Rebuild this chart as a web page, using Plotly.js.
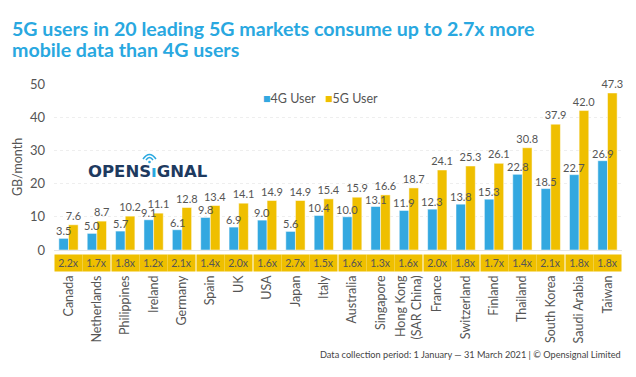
<!DOCTYPE html>
<html><head><meta charset="utf-8">
<script src="https://cdn.plot.ly/plotly-3.0.1.min.js"></script>
<style>html,body{margin:0;padding:0;background:#fff}#c{width:636px;height:377px}</style>
</head><body><div id="c"></div>
<script>
const countries = ["Canada","Netherlands","Philippines","Ireland","Germany","Spain","UK","USA","Japan","Italy","Australia","Singapore","Hong Kong<br>(SAR China)","France","Switzerland","Finland","Thailand","South Korea","Saudi Arabia","Taiwan"];
const users4G = [3.5,5.0,5.7,9.1,6.1,9.8,6.9,9.0,5.6,10.4,10.0,13.1,11.9,12.3,13.8,15.3,22.8,18.5,22.7,26.9];
const users5G = [7.6,8.7,10.2,11.1,12.8,13.4,14.1,14.9,14.9,15.4,15.9,16.6,18.7,24.1,25.3,26.1,30.8,37.9,42.0,47.3];
const ratios = ["2.2x","1.7x","1.8x","1.2x","2.1x","1.4x","2.0x","1.6x","2.7x","1.5x","1.6x","1.3x","1.6x","2.0x","1.8x","1.7x","1.4x","2.1x","1.8x","1.8x"];

const blue = "#33a8e0", yellow = "#efbf00", grey = "#555";
const font = "Lato, 'Open Sans', sans-serif";

// plot area in pixels: x 54..622, y 84..250
const PX = p => (p - 54) / 568;
const PY = p => (250 - p) / 166;
const BARGAP = 0.32;
const barHalf = (568 / countries.length) * (1 - BARGAP) / 4; // offset of each bar centre

const traces = [
  {type:"bar", name:"4G User", x:countries, y:users4G,
   marker:{color:blue, line:{color:"#fff", width:0.5}}},
  {type:"bar", name:"5G User", x:countries, y:users5G,
   marker:{color:yellow, line:{color:"#fff", width:0.5}},
   text:users5G.map(v=>v.toFixed(1)), textposition:"outside", cliponaxis:false, constraintext:"none",
   textfont:{family:font, size:11, color:grey}}
];

const annotations = users4G.map((v,i)=>({
  x:countries[i], xref:"x", y:v, yref:"y", yanchor:"bottom", xshift:-barHalf, yshift:0,
  text:v.toFixed(1), showarrow:false, borderpad:0,
  font:{family:font, size:11, color:grey}
}));
ratios.forEach((r,i)=>annotations.push({
  x:countries[i], xref:"x", y:PY(254), yref:"paper", yanchor:"top",
  text:r, showarrow:false, bgcolor:yellow, width:25, height:14, borderpad:1,
  font:{family:font, size:10.5, color:grey}
}));
annotations.push({
  x:PX(623), xref:"paper", xanchor:"right", y:PY(354), yref:"paper", yanchor:"middle",
  text:"Data collection period: 1 January — 31 March 2021 | © Opensignal Limited",
  showarrow:false, font:{family:font, size:9.2, color:"#444"}
});
annotations.push({
  x:PX(10), xref:"paper", xanchor:"left", y:PY(28.5), yref:"paper", yanchor:"middle",
  text:"<b>5G users in 20 leading 5G markets consume up to 2.7x more</b>",
  showarrow:false, font:{family:font, size:19.6, color:"#29a8e0"}
});
annotations.push({
  x:PX(10), xref:"paper", xanchor:"left", y:PY(49.5), yref:"paper", yanchor:"middle",
  text:"<b>mobile data than 4G users</b>",
  showarrow:false, font:{family:font, size:19.6, color:"#29a8e0"}
});
annotations.push({
  x:PX(86), xref:"paper", xanchor:"left", y:PY(171), yref:"paper", yanchor:"middle",
  text:"<b>OPENS<span style='color:#29a8e0'>ı</span>GNAL</b>",
  showarrow:false, font:{family:"'DejaVu Sans', sans-serif", size:16.5, color:"#1e3a5f"}
});
// legend
[["4G User", blue, 261], ["5G User", yellow, 323]].forEach(([name,c,px])=>annotations.push({
  x:PX(px), xref:"paper", xanchor:"left", y:PY(98), yref:"paper", yanchor:"middle",
  text:`<span style="color:${c}">■</span>${name}`, showarrow:false,
  font:{family:font, size:12.5, color:grey}
}));

function arc(cx, cy, r){
  return `M ${PX(cx-r)} ${PY(cy)} Q ${PX(cx)} ${PY(cy-r*1.4)} ${PX(cx+r)} ${PY(cy)}`;
}

const layout = {
  width:636, height:377,
  margin:{l:54, r:14, t:84, b:127},
  paper_bgcolor:"#fff", plot_bgcolor:"#fff",
  barmode:"group", bargap:BARGAP, bargroupgap:0,
  showlegend:false,
  xaxis:{tickangle:-90, tickfont:{family:font, size:12.5, color:grey}, ticklabelstandoff:22,
    showline:false, ticks:"", fixedrange:true},
  yaxis:{range:[0,50], dtick:10, tickfont:{family:font, size:13, color:grey},
    title:{text:"GB/month", font:{family:font, size:12.5, color:grey}, standoff:4},
    gridcolor:"#eeeeee", griddash:"dot", zeroline:true, zerolinecolor:"#e4e4e4", zerolinewidth:1,
    ticklabelstandoff:8},
  font:{family:font},
  annotations:annotations,
  shapes:[
    {type:"circle", xref:"paper", yref:"paper", x0:PX(148.2), x1:PX(150.8), y0:PY(163.3), y1:PY(160.7),
     fillcolor:"#29a8e0", line:{width:0}},
    {type:"path", xref:"paper", yref:"paper", path:arc(149.5,160,3.5), line:{color:"#29a8e0", width:1.5}},
    {type:"path", xref:"paper", yref:"paper", path:arc(149.5,159,6.5), line:{color:"#29a8e0", width:1.5}}
  ]
};
Plotly.newPlot("c", traces, layout, {displayModeBar:false, staticPlot:true});
</script></body></html>
